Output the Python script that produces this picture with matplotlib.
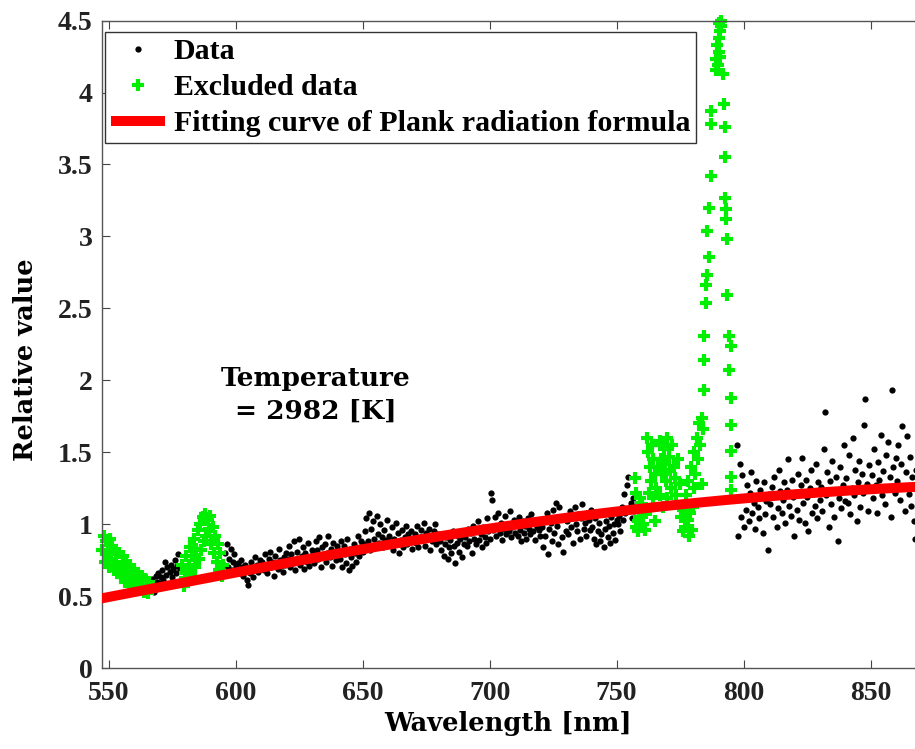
import numpy as np
import matplotlib.pyplot as plt
from matplotlib.ticker import FormatStrFormatter

# measured spectrum, 0.5 nm sampling, points used for the fit
data_wl = np.concatenate([np.arange(566.5, 578.01, 0.5),
                          np.arange(595.5, 757.51, 0.5),
                          np.arange(797.5, 868.01, 0.5)])
data_val = [
    # 566.5 - 578
    0.55, 0.62, 0.58, 0.53, 0.64, 0.60, 0.66, 0.59, 0.63, 0.68, 0.61, 0.74,
    0.65, 0.70, 0.57, 0.67, 0.72, 0.63, 0.69, 0.75, 0.66, 0.71, 0.79, 0.68,
    # 595.5 - 600
    0.72, 0.80, 0.86, 0.70, 0.76, 0.83, 0.68, 0.74, 0.79, 0.71,
    # 600.5 - 610
    0.69, 0.73, 0.66, 0.75, 0.70, 0.64, 0.72, 0.68, 0.61, 0.58, 0.66, 0.74, 0.70, 0.63, 0.77, 0.69, 0.72, 0.67, 0.75, 0.71,
    # 610.5 - 620
    0.74, 0.68, 0.79, 0.72, 0.66, 0.76, 0.81, 0.70, 0.74, 0.64, 0.78, 0.73, 0.69, 0.83, 0.75, 0.71, 0.67, 0.77, 0.72, 0.80,
    # 620.5 - 630
    0.76, 0.85, 0.70, 0.79, 0.73, 0.88, 0.68, 0.81, 0.75, 0.90, 0.72, 0.78, 0.84, 0.69, 0.80, 0.74, 0.87, 0.71, 0.77, 0.82,
    # 630.5 - 640
    0.79, 0.73, 0.88, 0.82, 0.76, 0.91, 0.70, 0.84, 0.78, 0.86, 0.74, 0.80, 0.92, 0.77, 0.83, 0.71, 0.87, 0.79, 0.75, 0.85,
    # 640.5 - 650
    0.82, 0.76, 0.88, 0.70, 0.85, 0.79, 0.73, 0.90, 0.68, 0.83, 0.77, 0.71, 0.86, 0.80, 0.74, 0.92, 0.78, 0.84, 0.88, 0.81,
    # 650.5 - 660
    0.86, 0.95, 1.04, 0.88, 1.08, 0.82, 0.97, 1.02, 0.90, 0.85, 1.06, 0.93, 0.87, 1.00, 0.91, 0.84, 0.96, 0.89, 1.03, 0.88,
    # 660.5 - 670
    0.92, 0.86, 0.98, 0.82, 0.90, 1.01, 0.87, 0.94, 0.80, 0.89, 0.96, 0.84, 0.91, 0.99, 0.86, 0.93, 0.88, 0.95, 0.83, 0.90,
    # 670.5 - 680
    0.93, 0.87, 0.99, 0.84, 0.91, 0.96, 0.89, 1.01, 0.85, 0.94, 0.90, 0.97, 0.82, 0.92, 0.88, 0.95, 1.00, 0.86, 0.93, 0.89,
    # 680.5 - 690
    0.88, 0.82, 0.93, 0.78, 0.86, 0.91, 0.76, 0.84, 0.89, 0.80, 0.95, 0.85, 0.73, 0.87, 0.92, 0.81, 0.90, 0.77, 0.94, 0.86,
    # 690.5 - 700
    0.91, 0.85, 0.97, 0.88, 0.94, 0.80, 0.99, 0.90, 0.86, 0.95, 1.02, 0.89, 0.93, 0.84, 0.98, 0.91, 0.87, 1.04, 0.95, 0.90,
    # 700.5 - 710
    1.22, 1.17, 0.96, 1.05, 0.92, 0.99, 1.08, 0.94, 1.01, 0.89, 0.97, 1.06, 0.93, 1.00, 0.95, 1.09, 0.91, 0.98, 1.03, 0.94,
    # 710.5 - 720
    1.00, 0.92, 1.05, 0.96, 0.88, 1.02, 0.94, 0.99, 0.90, 1.04, 0.97, 0.93, 1.07, 0.95, 1.01, 0.89, 0.98, 1.03, 0.96, 0.92,
    # 720.5 - 730
    0.98, 0.84, 1.03, 0.92, 1.08, 0.79, 0.97, 1.01, 0.88, 1.10, 0.94, 1.15, 0.99, 0.86, 1.12, 1.04, 0.91, 0.81, 1.06, 0.95,
    # 730.5 - 740
    1.02, 0.93, 1.09, 0.98, 1.05, 0.87, 1.12, 1.00, 0.95, 1.07, 0.90, 1.04, 1.14, 0.97, 1.01, 0.92, 1.08, 1.03, 0.96, 1.10,
    # 740.5 - 750
    0.98, 0.90, 1.04, 0.86, 0.95, 1.01, 0.88, 0.93, 1.07, 0.84, 0.97, 1.02, 0.91, 0.99, 0.87, 1.05, 0.94, 1.00, 0.89, 1.03,
    # 750.5 - 757.5
    1.00, 1.06, 0.95, 1.12, 1.03, 1.21, 1.08, 1.27, 1.33, 1.10, 1.15, 1.04, 1.18, 1.09, 1.13,
    # 797.5 - 800
    1.55, 0.92, 1.42, 1.05, 1.34, 0.98,
    # 800.5 - 810
    1.18, 1.10, 1.27, 1.02, 1.22, 1.36, 1.08, 1.15, 0.97, 1.30, 1.12, 1.04, 1.24, 1.19, 0.94, 1.29, 1.07, 1.16, 0.82, 1.21,
    # 810.5 - 820
    1.14, 1.26, 1.05, 1.33, 1.20, 0.98, 1.11, 1.38, 1.23, 1.08, 1.17, 1.29, 1.01, 1.24, 1.45, 1.13, 1.06, 1.31, 1.19, 0.92,
    # 820.5 - 830
    1.22, 1.10, 1.35, 1.03, 1.27, 1.46, 1.15, 1.01, 1.31, 1.19, 0.95, 1.25, 1.38, 1.08, 1.21, 1.13, 1.42, 1.04, 1.29, 1.17,
    # 830.5 - 840
    1.26, 1.09, 1.52, 1.78, 1.20, 1.36, 0.98, 1.30, 1.14, 1.44, 1.05, 1.23, 1.33, 0.88, 1.18, 1.40, 1.11, 1.27, 1.55, 1.16,
    # 840.5 - 850
    1.32, 1.15, 1.48, 1.07, 1.25, 1.60, 1.20, 1.38, 1.02, 1.29, 1.44, 1.12, 1.35, 1.22, 1.69, 1.87, 1.28, 1.09, 1.41, 1.24,
    # 850.5 - 860
    1.34, 1.18, 1.52, 1.27, 1.08, 1.43, 1.31, 1.62, 1.20, 1.37, 1.14, 1.48, 1.26, 1.57, 1.33, 1.05, 1.93, 1.40, 1.22, 1.46,
    # 860.5 - 868
    1.30, 1.55, 1.17, 1.42, 1.68, 1.25, 1.09, 1.36, 1.61, 1.21, 1.47, 1.13, 1.33, 1.02, 0.90, 1.38,
]
assert len(data_wl) == len(data_val)

# points left out of the fit (emission lines etc.)
excl_wl_a = np.arange(547.5, 566.01, 0.5)
excl_val_a = [0.82, 0.92, 0.74, 0.88, 0.79, 0.70, 0.90, 0.76, 0.85, 0.68, 0.82, 0.74, 0.66,
              0.80, 0.70, 0.63, 0.78, 0.68, 0.60, 0.74, 0.66, 0.58, 0.72, 0.63, 0.57, 0.69,
              0.61, 0.55, 0.66, 0.60, 0.54, 0.64, 0.58, 0.53, 0.62, 0.57, 0.52, 0.60]
excl_wl_b = np.arange(578.5, 595.01, 0.5)
excl_val_b = [0.60, 0.72, 0.57, 0.66, 0.78, 0.61, 0.72, 0.84, 0.65, 0.78, 0.90, 0.70, 0.83,
              0.96, 0.76, 1.00, 0.82, 1.05, 0.88, 1.07, 0.92, 1.03, 0.97, 1.06, 0.86, 0.98,
              0.80, 0.92, 0.74, 0.86, 0.68, 0.80, 0.64, 0.72]
excl_wl_c = [757.2, 757.5, 758.0, 758.3, 758.6, 759.0, 759.2, 757.8,
             762.0, 762.5, 763.0, 763.5, 762.8, 763.2, 764.0, 764.5, 765.0, 765.5, 764.2, 765.2,
             760.5, 761.0, 761.5, 760.0,
             766.5, 767.0, 767.2, 767.5, 768.0, 768.3, 768.5, 769.0, 769.5, 769.8, 770.0, 770.5,
             771.0, 771.5, 772.0, 772.5, 773.0, 773.5, 774.0, 774.5, 775.0,
             775.5, 776.0, 776.5, 777.0, 778.0, 778.5, 779.0, 779.5, 780.0,
             777.5, 778.2, 779.2, 780.3, 780.5, 781.0, 781.5, 782.0, 782.5, 783.0, 783.5, 784.0,
             783.7, 784.4, 784.4, 784.4, 785.1, 785.1, 785.7, 786.3, 785.7, 786.2, 787.0, 787.0, 787.0,
             789.0, 789.3, 789.5, 789.8, 790.2, 790.4, 790.5, 790.6, 790.8, 791.0, 791.2, 791.9,
             792.3, 792.5, 792.8, 792.8, 793.0, 793.0, 793.6, 793.6, 794.2, 794.9, 794.2, 794.9,
             794.9, 794.9, 794.9, 794.9]
excl_val_c = [1.32, 1.22, 1.12, 1.02, 0.95, 1.05, 1.18, 0.98,
              1.60, 1.50, 1.40, 1.30, 1.22, 1.10, 1.55, 1.45, 1.35, 1.25, 1.18, 1.02,
              1.00, 0.96, 1.08, 1.14,
              1.40, 1.58, 1.20, 1.45, 1.35, 1.12, 1.52, 1.42, 1.30, 1.18, 1.60, 1.47,
              1.38, 1.25, 1.55, 1.40, 1.32, 1.20, 1.45, 1.13, 1.28,
              1.05, 0.95, 1.10, 0.98, 1.03, 0.92, 1.08, 0.96, 1.12,
              1.20, 1.30, 1.40, 1.25, 1.50, 1.35, 1.60, 1.45, 1.70, 1.55, 1.28, 1.66,
              1.74, 1.93, 2.14, 2.31, 2.54, 2.66, 2.73, 2.86, 3.04, 3.20, 3.42, 3.78, 3.87,
              4.23, 4.16, 4.33, 4.19, 4.28, 4.48, 4.38, 4.43, 4.25, 4.50, 4.46, 4.13,
              3.92, 3.76, 3.55, 3.27, 3.19, 3.12, 2.98, 2.59, 2.31, 2.24, 2.07, 1.875,
              1.69, 1.51, 1.33, 1.24]
excl_wl = np.concatenate([excl_wl_a, excl_wl_b, excl_wl_c])
excl_val = np.concatenate([excl_val_a, excl_val_b, excl_val_c])

# Planck fit result
T_fit = 2982.0
fit_norm_wl = 700.0
fit_norm_val = 0.97


def planck(wl_nm, T):
    c2 = 1.4388e7  # hc/k in nm*K
    return wl_nm ** -5.0 / (np.exp(c2 / (wl_nm * T)) - 1.0)


fit_wl = np.linspace(545, 870, 400)
fit_val = planck(fit_wl, T_fit) / planck(fit_norm_wl, T_fit) * fit_norm_val

plt.rcParams['font.family'] = ['Liberation Serif', 'DejaVu Serif']
plt.rcParams['font.weight'] = 'bold'

fig = plt.figure(figsize=(9.15, 7.49), dpi=100)
ax = fig.add_axes([0.1115, 0.108, 0.8885, 0.8645])

ax.plot(fit_wl, fit_val, color='#ff0000', lw=7.2, solid_capstyle='butt', zorder=3,
        label='Fitting curve of Plank radiation formula')
ax.plot(data_wl, data_val, 'o', color='black', ms=4.5, mec='none', zorder=2, label='Data')
ax.plot(excl_wl, excl_val, '+', color='#00ee00', ms=9, mew=3.0, zorder=2, clip_on=False,
        label='Excluded data')

ax.set_xlim(547.4, 867.5)
ax.set_ylim(0, 4.5)
ax.set_xticks(np.arange(550, 851, 50))
ax.set_yticks(np.arange(0, 4.51, 0.5))
ax.yaxis.set_major_formatter(FormatStrFormatter('%g'))
ax.tick_params(direction='in', length=6, width=0.8, color='#444444', labelsize=20,
               labelcolor='#222222', top=True)
ax.tick_params(axis='x', pad=9)
ax.tick_params(axis='y', pad=7)
for side in ['left', 'bottom', 'top']:
    ax.spines[side].set_color('#555555')
    ax.spines[side].set_linewidth(1.0)
ax.spines['right'].set_visible(False)

ax.set_xlabel('Wavelength [nm]', fontsize=18.5, family='DejaVu Serif', weight='bold')
ax.set_ylabel('Relative value', fontsize=18.5, family='DejaVu Serif', weight='bold')
ax.xaxis.set_label_coords(0.5, -0.067)
ax.yaxis.set_label_coords(-0.079, 0.476)

ax.text(631.5, 1.9, 'Temperature\n= 2982 [K]', ha='center', va='center', fontsize=19,
        family='DejaVu Serif', weight='bold', linespacing=1.35)

handles, labels = ax.get_legend_handles_labels()
order = [1, 2, 0]
leg = ax.legend([handles[i] for i in order], [labels[i] for i in order],
                loc='upper left', bbox_to_anchor=(0.004, 0.982), fontsize=21.5,
                frameon=True, fancybox=False, edgecolor='#333333', framealpha=1,
                borderpad=0.2, labelspacing=0.3, handlelength=1.8, handletextpad=0.3,
                borderaxespad=0)
leg.get_frame().set_linewidth(1.0)

fig.savefig('out.png', dpi=100)
